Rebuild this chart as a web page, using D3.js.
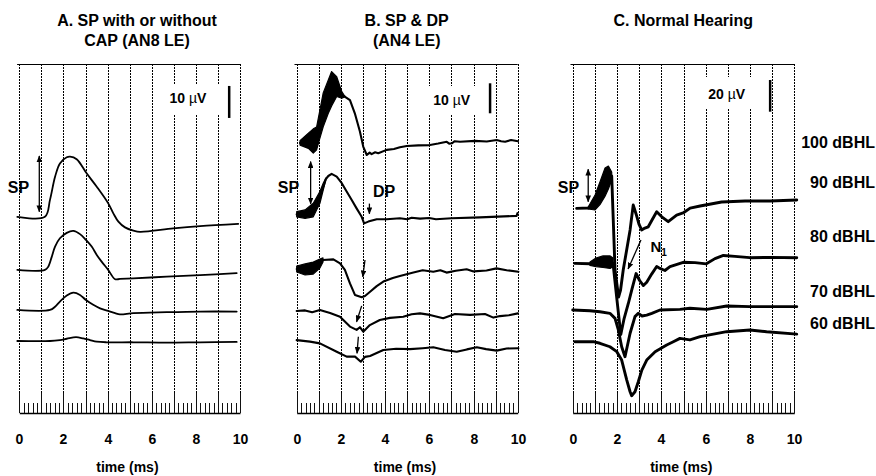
<!doctype html><html><head><style>body{margin:0;background:#fff}</style></head><body><script src='https://d3js.org/d3.v7.min.js'></script>
<script>
// Dimensions
const W = 876, H = 476;
const topY = 64, axisY = 413;

// time axis (ms)
const majorTicks = d3.range(0, 11, 1);
const minorTicks = d3.range(0, 10.01, 0.2);
const tickLabels = [0, 2, 4, 6, 8, 10];

// traces: [time (ms), µV above the axis]
const traceA1 = [[-0.09,61.3],[1.16,61.3],[1.39,66.6],[1.62,73.8],[1.84,78.0],[2.15,79.9],[2.30,80.1],[2.60,79.3],[3.05,74.9],[3.51,70.7],[4.03,65.5],[4.26,62.4],[4.49,59.8],[4.79,58.0],[5.17,57.0],[5.47,56.6],[6.98,57.7],[8.19,58.4],[9.92,59.1]];
const traceA2 = [[-0.09,44.7],[1.16,44.7],[1.31,45.7],[1.47,48.8],[1.62,52.0],[1.84,54.6],[2.15,56.3],[2.45,56.9],[2.75,55.9],[3.02,54.1],[3.28,52.0],[3.51,49.4],[3.73,47.3],[4.03,44.7],[4.34,41.8],[4.56,41.9],[5.17,42.1],[6.68,42.6],[8.19,43.1],[9.85,43.7]];
const traceA3 = [[-0.09,32.2],[1.39,32.2],[1.62,33.2],[1.84,34.8],[2.15,36.7],[2.45,37.6],[2.75,36.9],[3.02,35.3],[3.35,33.8],[3.66,32.7],[4.03,31.9],[4.34,31.2],[4.56,30.8],[5.17,31.2],[6.68,31.5],[8.19,31.7],[9.85,31.7]];
const traceA4 = [[-0.09,22.5],[1.39,22.5],[1.84,22.8],[2.15,23.2],[2.57,23.7],[2.90,23.3],[3.20,22.8],[3.51,22.3],[3.96,22.1],[5.17,22.1],[6.68,22.0],[8.19,22.1],[9.85,22.2]];

const traceB1 = [[0.15,90.0],[0.53,90.7],[0.75,90.6],[0.90,91.5],[1.05,96.3],[1.20,101.0],[1.43,105.4],[1.58,108.0],[1.81,108.8],[2.04,106.0],[2.19,105.4],[2.41,104.3],[2.63,99.9],[2.86,93.8],[3.01,88.8],[3.17,86.0],[3.30,86.8],[3.39,86.3],[3.55,86.9],[3.69,86.6],[4.07,87.7],[4.40,88.0],[4.67,88.6],[4.98,89.0],[5.50,89.2],[6.03,89.3],[6.40,89.8],[6.79,90.4],[6.90,89.8],[7.03,89.9],[7.15,90.6],[7.39,90.4],[8.07,90.7],[8.60,90.5],[9.05,91.0],[9.25,90.6],[9.43,90.4],[9.70,91.0],[10.01,90.6]];
const bandB1 = [[0.15,90.8,89.3],[0.53,93.3,88.2],[0.75,94.7,86.6],[0.90,95.3,87.7],[1.05,101.0,91.6],[1.20,106.7,95.4],[1.43,111.0,99.9],[1.58,113.8,102.3],[1.81,112.1,105.5],[2.04,107.1,104.9],[2.19,105.4,105.4]];
const traceB2 = [[0,66.2],[0.38,66.3],[0.75,67.6],[1.05,71.8],[1.20,75.4],[1.32,78.0],[1.43,79.0],[1.58,79.7],[1.81,78.8],[2.04,76.6],[2.26,73.8],[2.49,71.0],[2.71,68.2],[2.94,65.4],[3.05,63.2],[3.24,63.8],[3.62,64.6],[4.07,64.6],[4.67,64.9],[5.00,64.6],[5.20,65.1],[5.58,64.8],[6.00,65.0],[6.30,64.6],[7.01,64.9],[8.29,65.2],[9.95,65.7],[9.99,66.6]];
const bandB2 = [[0,67.1,65.4],[0.38,67.7,64.9],[0.75,69.9,65.4],[1.05,73.8,69.9],[1.20,76.6,74.3],[1.32,78.3,77.7]];
const traceB3 = [[0,48.0],[0.38,47.8],[0.75,48.3],[1.05,49.8],[1.19,51.0],[1.66,51.2],[1.96,49.9],[2.18,47.7],[2.41,43.2],[2.64,39.3],[2.94,38.6],[3.09,39.0],[3.32,40.4],[3.62,42.3],[3.92,43.8],[4.35,45.0],[4.67,45.7],[5.28,46.8],[5.70,47.6],[6.18,47.1],[6.50,47.6],[6.78,46.8],[7.20,47.4],[7.69,47.9],[8.00,47.2],[8.59,47.5],[9.04,48.2],[9.50,47.6],[10.03,47.1]];
const bandB3 = [[0,49.0,47.0],[0.38,49.7,46.0],[0.75,50.3,46.3],[1.05,51.3,48.3],[1.19,51.7,50.3]];
const traceB4 = [[0,34.0],[0.38,34.2],[0.70,33.6],[1.05,34.3],[1.51,33.3],[1.96,32.1],[2.41,28.8],[2.71,27.7],[2.86,28.6],[3.01,27.1],[3.31,29.3],[3.76,31.0],[4.22,31.7],[4.82,32.1],[5.20,32.9],[5.58,33.2],[6.03,32.7],[6.63,31.6],[7.16,33.0],[7.84,32.7],[8.52,33.0],[8.90,31.8],[9.20,32.3],[9.60,32.6],[10.01,33.2]];
const traceB5 = [[0,24.3],[0.60,23.8],[1.05,23.2],[1.81,20.4],[2.26,18.8],[2.64,18.8],[2.90,17.1],[3.09,18.7],[3.32,19.0],[3.92,21.0],[4.50,21.4],[5.13,21.3],[5.70,21.6],[6.18,21.9],[6.71,21.0],[7.24,20.4],[7.70,21.2],[8.15,21.9],[8.57,21.3],[9.05,20.8],[9.50,21.5],[10.03,21.6]];

const traceC1 = [[0.18,129.1],[0.70,129.3],[1.01,132.8],[1.23,138.6],[1.46,145.7],[1.61,148.5],[1.76,149.5],[1.91,90.2],[2.07,73.2],[2.16,77.6],[2.28,90.2],[2.59,115.5],[2.73,131.2],[2.86,125.6],[2.99,119.2],[3.11,115.5],[3.26,116.7],[3.41,117.5],[3.58,121.8],[3.79,127.0],[4.02,123.8],[4.31,120.7],[4.69,124.9],[4.98,126.2],[5.30,129.3],[5.75,130.6],[6.72,133.1],[7.78,133.8],[8.91,133.8],[10.11,134.4]];
const bandC1 = [[0.70,130.0,128.7],[1.01,137.5,128.1],[1.23,145.7,131.5],[1.46,154.6,136.8],[1.61,155.8,141.3],[1.76,152.0,147.0]];
const traceC2 = [[0.10,94.4],[0.78,94.2],[1.05,95.1],[1.37,95.4],[1.69,95.2],[1.82,94.5],[2.00,71.0],[2.17,49.5],[2.32,59.6],[2.51,69.1],[2.68,78.5],[2.86,88.0],[3.02,83.6],[3.19,80.4],[3.34,82.5],[3.57,87.8],[3.79,92.4],[3.94,91.2],[4.16,89.9],[4.39,92.4],[4.99,95.1],[5.52,94.9],[6.03,94.1],[6.42,97.4],[6.80,99.4],[7.32,98.8],[7.99,98.0],[8.89,98.2],[10.11,98.0]];
const bandC2 = [[0.78,95.3,93.1],[1.05,97.8,92.4],[1.37,99.1,91.8],[1.69,99.1,91.2],[1.82,97.8,92.4]];
const traceC3 = [[0,65.0],[0.78,64.5],[1.23,63.9],[1.68,62.9],[1.91,59.7],[2.06,52.4],[2.21,41.8],[2.36,35.5],[2.59,50.3],[2.81,60.8],[2.96,62.9],[3.13,61.2],[3.34,61.8],[3.57,62.9],[3.94,65.0],[4.84,65.4],[5.29,66.1],[6.05,65.4],[6.95,67.5],[8.00,67.1],[10.11,67.1]];
const traceC4 = [[0.10,45.0],[0.93,45.0],[1.23,44.0],[1.68,41.8],[1.99,38.7],[2.21,33.4],[2.44,20.8],[2.59,13.4],[2.66,10.9],[2.81,13.4],[2.96,19.7],[3.12,27.1],[3.34,33.4],[3.72,38.7],[4.24,42.9],[4.54,45.0],[4.84,47.1],[5.29,46.1],[5.75,48.2],[6.95,51.3],[8.00,52.4],[8.75,51.3],[10.11,49.8]];

// intensity levels of panel C
const levels = ['100 dBHL', '90 dBHL', '80 dBHL', '70 dBHL', '60 dBHL'];
const levelY = [148, 188, 242, 297, 329];

// panels
const panels = [
  { x0: 19.3, x1: 240, span: 109.06, tx: 137, title: ['A. SP with or without', 'CAP (AN8 LE)'],
    bar: 10, barT: 9.51, barTop: 102.2, labelX: 188, labelY: 103, box: [160, 85, 64, 29],
    lw: 1.8, curve: d3.curveCatmullRom, traces: [traceA1, traceA2, traceA3, traceA4], bands: [],
    arrows: [{a: [0.906, 80.3], b: [0.906, 62.9], both: true}],
    notes: [{t: 'SP', x: 18.5, y: 193}] },
  { x0: 296.7, x1: 517.7, span: 116.33, tx: 406.7, title: ['B. SP & DP', '(AN4 LE)'],
    bar: 10, barT: 8.75, barTop: 109.9, labelX: 451.7, labelY: 105, box: [420, 86, 66, 29],
    lw: 2.1, curve: d3.curveLinear, traces: [traceB1, traceB2, traceB3, traceB4, traceB5], bands: [bandB1, bandB2, bandB3],
    arrows: [{a: [0.63, 83.8], b: [0.63, 69.7], both: true},
             {a: [3.29, 69.8], b: [3.29, 66.4]},
             {a: [3.09, 51.0], b: [2.99, 45.4]},
             {a: [2.94, 35.7], b: [2.71, 30.4]},
             {a: [2.79, 25.4], b: [2.73, 19.9]}],
    notes: [{t: 'SP', x: 288.5, y: 193}, {t: 'DP', x: 384, y: 197}] },
  { x0: 572.7, x1: 794.3, span: 220.2, tx: 683.3, title: ['C. Normal Hearing'],
    bar: 20, barT: 8.91, barTop: 210.1, labelX: 726.7, labelY: 99, box: [695, 77, 68, 31],
    lw: 2.9, curve: d3.curveLinear, traces: [traceC1, traceC2, traceC3, traceC4], bands: [bandC1, bandC2],
    arrows: [{a: [0.70, 153.8], b: [0.70, 133.3], both: true},
             {a: [3.08, 109.1], b: [2.50, 90.9]}],
    notes: [{t: 'SP', x: 568.5, y: 193}] }
];

const svg = d3.select('body').append('svg')
  .attr('width', W).attr('height', H)
  .style('font-family', '"Liberation Sans", Arial, sans-serif')
  .style('font-weight', 'bold');

svg.append('defs').append('marker')
  .attr('id', 'head').attr('viewBox', '0 0 10 8')
  .attr('refX', 9).attr('refY', 4)
  .attr('markerWidth', 7).attr('markerHeight', 5.6)
  .attr('markerUnits', 'userSpaceOnUse')
  .attr('orient', 'auto-start-reverse')
  .append('path').attr('d', 'M0,0L10,4L0,8z').attr('fill', '#000');

const crisp = v => Math.round(v) + 0.5;

panels.forEach(p => {
  const x = d3.scaleLinear().domain([0, 10]).range([p.x0, p.x1]);
  const y = d3.scaleLinear().domain([0, p.span]).range([axisY, topY]);
  const g = svg.append('g');

  // title
  p.title.forEach((t, i) => g.append('text')
    .attr('x', p.tx).attr('y', 26 + i * 20)
    .attr('text-anchor', 'middle').attr('font-size', 16).text(t));

  // dashed grid + top frame line
  g.selectAll('.grid').data(majorTicks).join('line')
    .attr('x1', d => crisp(x(d))).attr('x2', d => crisp(x(d)))
    .attr('y1', topY).attr('y2', axisY - 20)
    .attr('stroke', '#000').attr('stroke-width', 1).attr('stroke-dasharray', '2,1');
  g.append('line')
    .attr('x1', x(-0.1)).attr('x2', x(10)).attr('y1', topY + 0.5).attr('y2', topY + 0.5)
    .attr('stroke', '#000').attr('stroke-width', 1.2);

  // bottom axis: minor, major ticks and labels
  const ax = g.append('g').attr('transform', `translate(0,${axisY})`);
  ax.append('g').call(d3.axisBottom(x).tickValues(minorTicks).tickSizeInner(-10).tickSizeOuter(0).tickFormat(''));
  ax.append('g').call(d3.axisBottom(x).tickValues(majorTicks).tickSizeInner(-20).tickSizeOuter(0).tickFormat(''))
    .select('.domain').remove();
  ax.append('g').call(d3.axisBottom(x).tickValues(tickLabels).tickSize(0).tickPadding(21).tickFormat(d3.format('d')))
    .call(a => a.select('.domain').remove())
    .selectAll('text').attr('font-size', 14).attr('font-family', '"Liberation Sans", Arial, sans-serif').attr('font-weight', 'bold').attr('fill', '#000');
  ax.selectAll('.tick').attr('transform', d => `translate(${crisp(x(d))},0)`);
  ax.selectAll('line').attr('stroke', '#111').attr('stroke-width', 1);
  ax.selectAll('.domain').attr('stroke', '#000').attr('stroke-width', 1.6);

  g.append('text').attr('x', x(4.9)).attr('y', 472)
    .attr('text-anchor', 'middle').attr('font-size', 14).text('time (ms)');

  // scale bar with its label on a white box
  g.append('rect').attr('x', p.box[0]).attr('y', p.box[1])
    .attr('width', p.box[2]).attr('height', p.box[3]).attr('fill', '#fff');
  g.append('line')
    .attr('x1', x(p.barT)).attr('x2', x(p.barT))
    .attr('y1', y(p.barTop)).attr('y2', y(p.barTop - p.bar))
    .attr('stroke', '#000').attr('stroke-width', 2.5);
  const lab = g.append('text').attr('x', p.labelX).attr('y', p.labelY)
    .attr('text-anchor', 'middle').attr('font-size', 14);
  lab.append('tspan').text(p.bar + ' ');
  lab.append('tspan').attr('font-weight', 'normal').text('\u00b5');
  lab.append('tspan').text('V');

  // traces
  const line = d3.line().x(d => x(d[0])).y(d => y(d[1])).curve(p.curve);
  g.selectAll('.trace').data(p.traces).join('path')
    .attr('d', line).attr('fill', 'none')
    .attr('stroke', '#000').attr('stroke-width', p.lw)
    .attr('stroke-linejoin', 'round').attr('stroke-linecap', 'round');

  const area = d3.area().x(d => x(d[0])).y0(d => y(d[2])).y1(d => y(d[1]));
  g.selectAll('.band').data(p.bands).join('path')
    .attr('d', area).attr('fill', '#000')
    .attr('stroke', '#000').attr('stroke-width', 1.2).attr('stroke-linejoin', 'round');

  // arrows and notes
  p.arrows.forEach(a => g.append('line')
    .attr('x1', x(a.a[0])).attr('y1', y(a.a[1]))
    .attr('x2', x(a.b[0])).attr('y2', y(a.b[1]))
    .attr('stroke', '#000').attr('stroke-width', 1.3)
    .attr('marker-end', 'url(#head)')
    .attr('marker-start', a.both ? 'url(#head)' : null));

  p.notes.forEach(n => g.append('text')
    .attr('x', n.x).attr('y', n.y).attr('text-anchor', 'middle')
    .attr('font-size', 16).text(n.t));
});

// N1 label
const n1 = svg.append('text').attr('x', 650.5).attr('y', 252).attr('font-size', 15);
n1.append('tspan').text('N');
n1.append('tspan').attr('font-size', 10).attr('dy', 4).text('1');

// dBHL labels
svg.selectAll('.lvl').data(levels).join('text')
  .attr('x', 875).attr('y', (d, i) => levelY[i])
  .attr('text-anchor', 'end').attr('font-size', 16).text(d => d);
</script></body></html>
